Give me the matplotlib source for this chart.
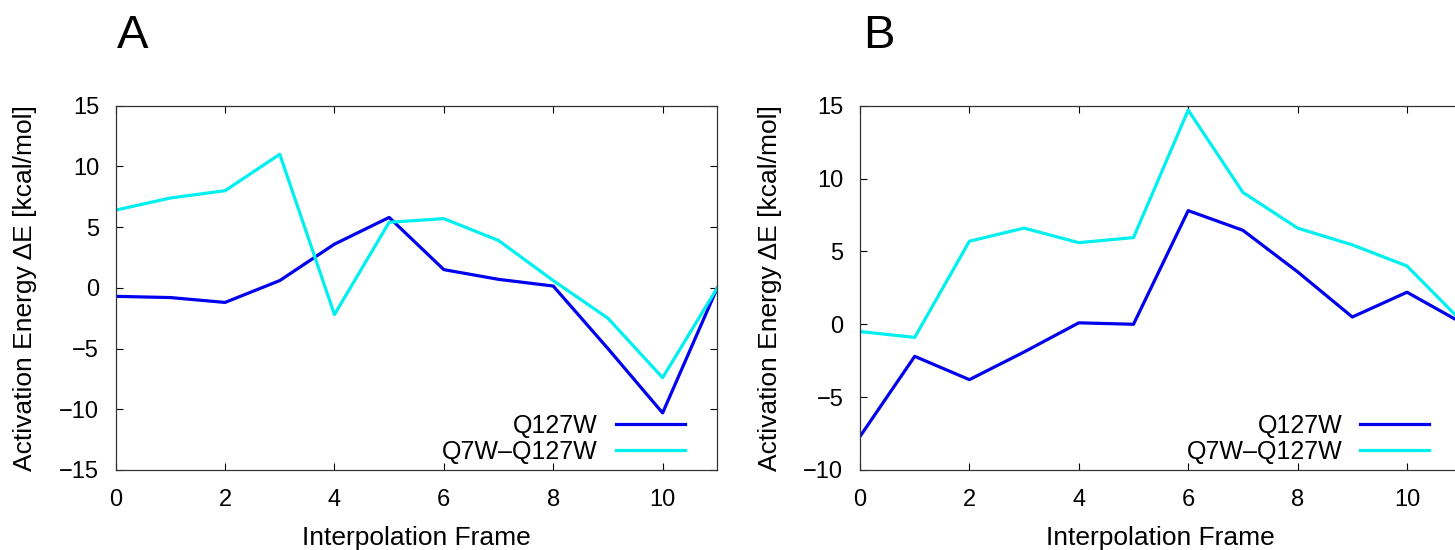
import numpy as np
import matplotlib
matplotlib.use("Agg")
import matplotlib.pyplot as plt

plt.rcParams["font.family"] = ["Liberation Sans", "DejaVu Sans"]

frames = np.arange(12)

# panel A
a_q127w = [-0.7, -0.8, -1.2, 0.6, 3.6, 5.8, 1.5, 0.7, 0.15, -5.0, -10.3, 0.0]
a_q7w_q127w = [6.4, 7.4, 8.0, 11.0, -2.2, 5.4, 5.7, 3.9, 0.6, -2.5, -7.4, 0.0]

# panel B
b_q127w = [-7.7, -2.2, -3.8, -1.9, 0.1, 0.0, 7.8, 6.45, 3.6, 0.5, 2.2, 0.1]
b_q7w_q127w = [-0.5, -0.9, 5.7, 6.6, 5.6, 5.95, 14.7, 9.05, 6.6, 5.45, 4.0, 0.2]

labels = ["Q127W", "Q7W\u2013Q127W"]
colors = ["#0000ee", "#00f0f0"]

W, H = 1455, 550
fig = plt.figure(figsize=(W / 100, H / 100), dpi=100)


def px_axes(x0, x1, y0, y1):
    return fig.add_axes([x0 / W, 1 - y1 / H, (x1 - x0) / W, (y1 - y0) / H])


panels = [
    (px_axes(115.7, 717.3, 105.7, 470), a_q127w, a_q7w_q127w, (-15, 15), "A", 117, -0.131),
    (px_axes(860, 1461.7, 105.7, 470), b_q127w, b_q7w_q127w, (-10, 15), "B", 863, -0.130),
]

for ax, s1, s2, ylim, letter, lx, ylx in panels:
    ax.plot(frames, s1, color=colors[0], lw=2.3, label=labels[0])
    ax.plot(frames, s2, color=colors[1], lw=2.3, label=labels[1])
    ax.set_xlim(0, 11)
    ax.set_ylim(*ylim)
    ax.set_xticks(range(0, 11, 2))
    ax.set_yticks(range(ylim[0], ylim[1] + 1, 5))
    ax.yaxis.set_major_formatter(matplotlib.ticker.FuncFormatter(
        lambda v, p: f"{int(v)}".replace("-", "\u2212")))
    ax.tick_params(direction="in", length=5, width=0.8, labelsize=17,
                   top=True, right=True)
    ax.tick_params(axis="x", pad=14)
    ax.tick_params(axis="y", pad=12)
    for sp in ax.spines.values():
        sp.set_linewidth(0.9)
        sp.set_color("#333333")
    ax.set_xlabel("Interpolation Frame", fontsize=19)
    ax.set_ylabel("Activation Energy \u0394E [kcal/mol]", fontsize=19)
    ax.xaxis.set_label_coords(0.5, -0.155)
    ax.yaxis.set_label_coords(ylx, 0.5)
    ax.legend(loc="lower right", bbox_to_anchor=(0.946, 0.017), frameon=False,
              markerfirst=False, fontsize=18, handlelength=2.76,
              handletextpad=0.72, labelspacing=0.08, borderpad=0,
              borderaxespad=0)
    fig.text(lx / W, 1 - 48 / H, letter, fontsize=34, ha="left", va="baseline")

fig.savefig("out.png", dpi=100)
